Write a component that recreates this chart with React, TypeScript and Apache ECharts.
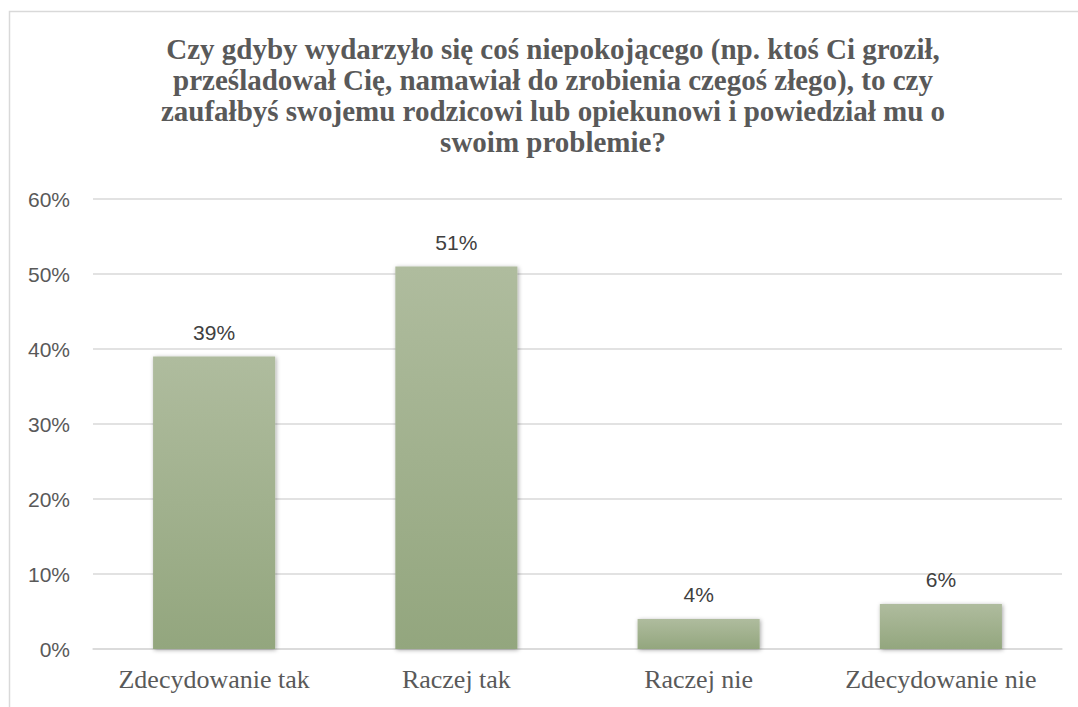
import React, { useEffect, useRef } from "react";
import * as echarts from "echarts";

const titleLines = [
  "Czy gdyby wydarzyło się coś niepokojącego (np. ktoś Ci groził,",
  "prześladował Cię, namawiał do zrobienia czegoś złego), to czy",
  "zaufałbyś swojemu rodzicowi lub opiekunowi i powiedział mu o",
  "swoim problemie?",
];
const categories = ["Zdecydowanie tak", "Raczej tak", "Raczej nie", "Zdecydowanie nie"];
const values = [39, 51, 4, 6];
const yMax = 60;
const yInterval = 10;

const SERIF = "Liberation Serif";
const SANS = "Liberation Sans";

export default function App() {
  const ref = useRef<HTMLDivElement>(null);
  useEffect(() => {
    if (!ref.current) return;
    const chart = echarts.init(ref.current, null, { renderer: "svg" });
    chart.setOption({
      animation: false,
      backgroundColor: "#ffffff",
      textStyle: { fontFamily: SANS },
      graphic: [
        {
          type: "polyline",
          silent: true,
          shape: { points: [[9.5, 720], [9.5, 11.5], [1090, 11.5]] },
          style: { stroke: "#d9d9d9", lineWidth: 1.5, fill: "none" },
        },
        {
          type: "text",
          x: 553,
          y: 33,
          silent: true,
          style: {
            text: titleLines.join("\n"),
            align: "center",
            verticalAlign: "top",
            fontFamily: SERIF,
            fontWeight: "bold",
            fontSize: 29,
            lineHeight: 31,
            fill: "#595959",
          },
        },
      ],
      grid: { left: 93, right: 16, top: 199, bottom: 58, containLabel: false },
      xAxis: {
        type: "category",
        data: categories,
        axisLine: { show: true, lineStyle: { color: "#d9d9d9", width: 1.5 } },
        axisTick: { show: false },
        axisLabel: {
          interval: 0,
          margin: 17,
          fontFamily: SERIF,
          fontSize: 26,
          color: "#595959",
        },
      },
      yAxis: {
        type: "value",
        min: 0,
        max: yMax,
        interval: yInterval,
        axisLine: { show: false },
        axisTick: { show: false },
        splitLine: { lineStyle: { color: "#d9d9d9", width: 1.5 } },
        axisLabel: {
          margin: 23,
          formatter: "{value}%",
          fontFamily: SANS,
          fontSize: 21,
          color: "#595959",
        },
      },
      series: [
        {
          type: "bar",
          data: values,
          barWidth: "50.4%",
          itemStyle: {
            color: new echarts.graphic.LinearGradient(0, 0, 0, 1, [
              { offset: 0, color: "#afbc9e" },
              { offset: 1, color: "#93a67e" },
            ]),
            shadowColor: "rgba(0,0,0,0.35)",
            shadowBlur: 4,
            shadowOffsetX: 1,
            shadowOffsetY: 1,
          },
          label: {
            show: true,
            position: "top",
            distance: 14,
            formatter: "{c}%",
            fontFamily: SANS,
            fontSize: 21,
            color: "#404040",
          },
        },
      ],
    });
    return () => chart.dispose();
  }, []);
  return (
    <div
      ref={ref}
      style={{ position: "absolute", left: 0, top: 0, width: 1078, height: 707 }}
    />
  );
}
